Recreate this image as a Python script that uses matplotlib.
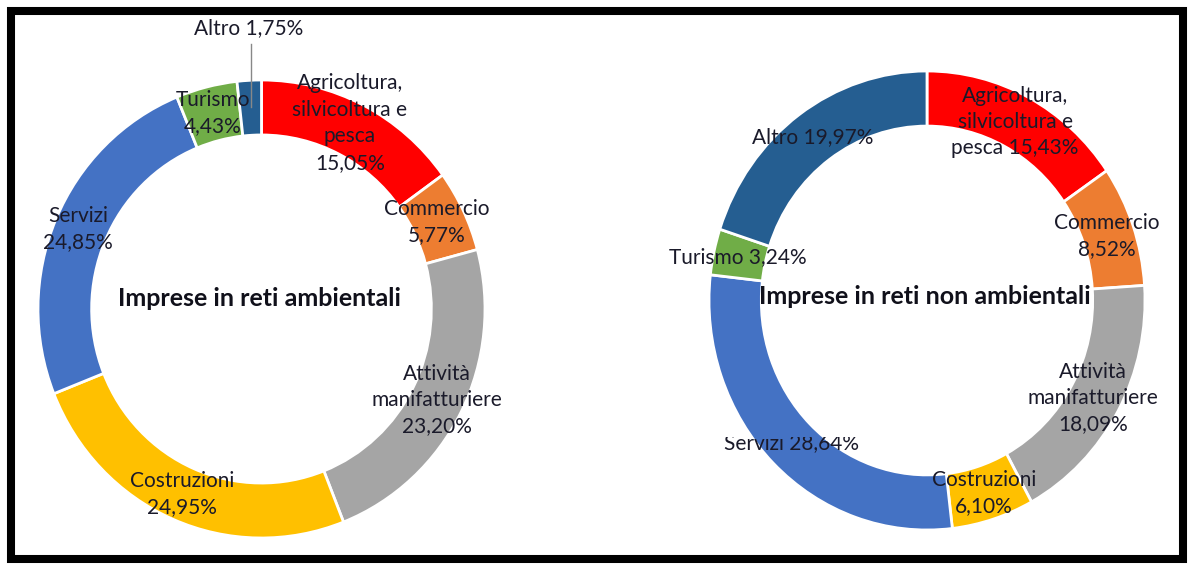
import matplotlib
matplotlib.use("Agg")
import matplotlib.pyplot as plt
from matplotlib.patches import Rectangle
from matplotlib.transforms import Bbox, TransformedBbox

W, H = 1192, 565

# data
settori = ["Agricoltura", "Commercio", "Attività", "Costruzioni", "Servizi", "Turismo", "Altro"]
colori = ["#FF0000", "#ED7D31", "#A5A5A5", "#FFC000", "#4472C4", "#70AD47", "#255E91"]
quote_amb = [15.05, 5.77, 23.20, 24.95, 24.85, 4.43, 1.75]
quote_non_amb = [15.43, 8.52, 18.09, 6.10, 28.64, 3.24, 19.97]

etichette_amb = [
    "Agricoltura,\nsilvicoltura e\npesca\n15,05%",
    "Commercio\n5,77%",
    "Attività\nmanifatturiere\n23,20%",
    "Costruzioni\n24,95%",
    "Servizi\n24,85%",
    "Turismo\n4,43%",
    "Altro 1,75%",
]
etichette_non_amb = [
    "Agricoltura,\nsilvicoltura e\npesca 15,43%",
    "Commercio\n8,52%",
    "Attività\nmanifatturiere\n18,09%",
    "Costruzioni\n6,10%",
    "Servizi 28,64%",
    "Turismo 3,24%",
    "Altro 19,97%",
]
titoli = ["Imprese in reti ambientali", "Imprese in reti non ambientali"]

# layout (pixels): donut centre / radii, label centres
donuts = [
    dict(cx=261.5, cy=309, rx=223.5, ry=229),
    dict(cx=927, cy=300.5, rx=218, ry=229.5),
]
pos_amb = [(350, 123), (437, 222), (437, 400), (182, 494), (78, 229), (213, 113), (249, 28)]
pos_non_amb = [(1015, 122), (1107, 236), (1093, 398), (984, 493), (791, 443), (738, 257), (813, 137)]
title_pos = [(260, 298), (925, 297)]

plt.rcParams["font.family"] = ["Lato", "DejaVu Sans"]

fig = plt.figure(figsize=(W / 100, H / 100), dpi=100)
fig.patch.set_facecolor("white")


def px(x, y):
    return x / W, 1 - y / H


testi = []
for d, quote, etichette, pos, titolo, tp in zip(
        donuts, [quote_amb, quote_non_amb], [etichette_amb, etichette_non_amb],
        [pos_amb, pos_non_amb], titoli, title_pos):
    ax = fig.add_axes([(d["cx"] - d["rx"]) / W, (H - d["cy"] - d["ry"]) / H,
                       2 * d["rx"] / W, 2 * d["ry"] / H])
    ax.pie(quote, colors=colori, startangle=90, counterclock=False, radius=1,
           wedgeprops=dict(width=0.24, edgecolor="white", linewidth=2))
    ax.set_aspect("auto")
    ax.set_xlim(-1, 1)
    ax.set_ylim(-1, 1)
    ax.axis("off")

    for lab, (x, y) in zip(etichette, pos):
        t = fig.text(*px(x, y), lab, ha="center", va="center", fontsize=15,
                     color="#1a1a2a", linespacing=1.4)
        testi.append(t)
    fig.text(*px(*tp), titolo, ha="center", va="center", fontsize=18,
             fontweight="bold", color="#10101a")

# the "Servizi 28,64%" label is cut at the top in the original
clip = testi[7 + 4]
clip.set_clip_box(TransformedBbox(Bbox([[0, 0], [1, 1 - 437 / H]]), fig.transFigure))
clip.set_clip_on(True)

# leader line for "Altro 1,75%"
fig.add_artist(plt.Line2D([251 / W, 251 / W], [1 - 44 / H, 1 - 107 / H],
                          color="#888888", linewidth=1))

# frame
fig.add_artist(Rectangle((11 / W, 1 - 559 / H), 1172 / W, 548 / H,
                         transform=fig.transFigure, fill=False,
                         edgecolor="black", linewidth=5.8))

fig.savefig("out.png", dpi=100)
